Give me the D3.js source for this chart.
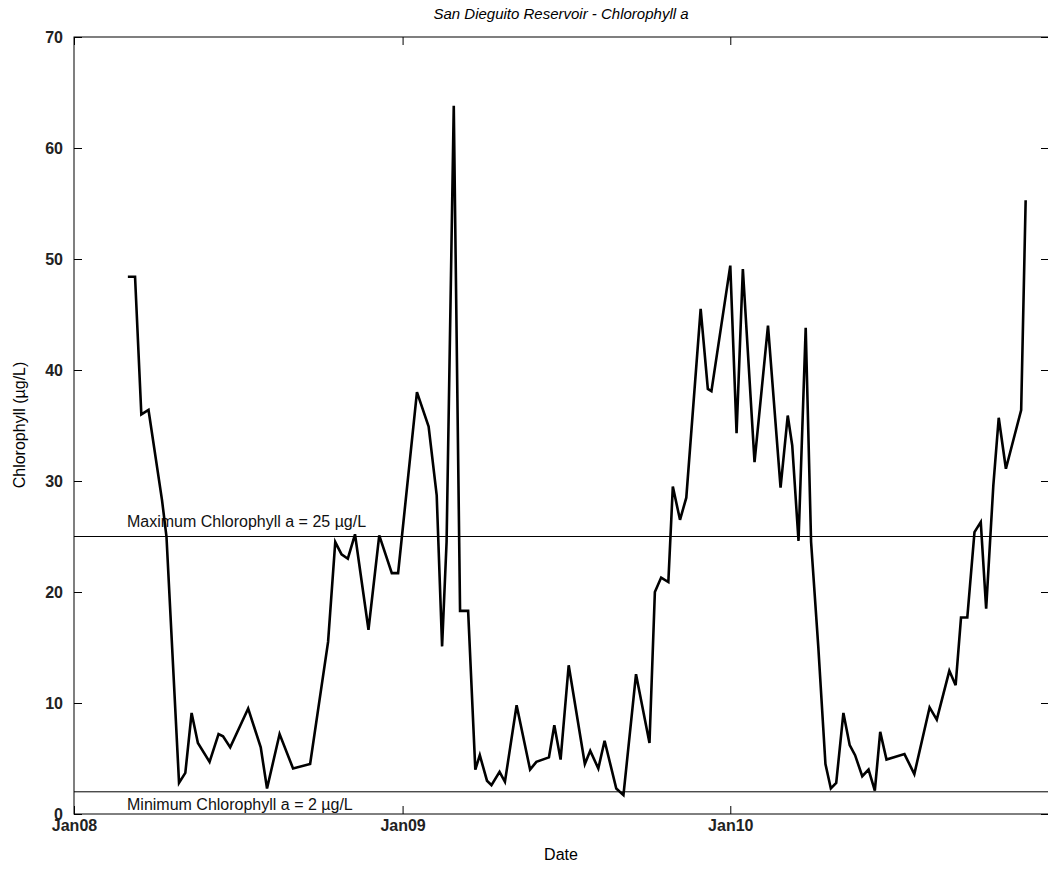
<!DOCTYPE html>
<html>
<head>
<meta charset="utf-8">
<style>
    body { margin: 0; background: white; }
    svg { font-family: Arial, 'Liberation Sans', sans-serif; }
</style>
</head>
<body>
<svg id="chart" width="1048" height="873"></svg>
<script src="https://d3js.org/d3.v7.min.js"></script>
<script>
    // sample dates and chlorophyll a (µg/L)
    let dates = ["2008-03-01","2008-03-09","2008-03-16","2008-03-24","2008-04-08","2008-04-13","2008-04-27","2008-05-04","2008-05-11","2008-05-18",
        "2008-05-31","2008-06-10","2008-06-15","2008-06-23","2008-07-13","2008-07-27","2008-08-03","2008-08-17","2008-09-01","2008-09-20",
        "2008-10-10","2008-10-18","2008-10-25","2008-11-01","2008-11-09","2008-11-24","2008-12-06","2008-12-20","2008-12-27","2009-01-17",
        "2009-01-30","2009-02-08","2009-02-14","2009-02-19","2009-02-27","2009-03-06","2009-03-15","2009-03-23","2009-03-28","2009-04-05",
        "2009-04-10","2009-04-19","2009-04-25","2009-05-08","2009-05-23","2009-05-30","2009-06-13","2009-06-19","2009-06-26","2009-07-05",
        "2009-07-23","2009-07-29","2009-08-07","2009-08-14","2009-08-27","2009-09-04","2009-09-18","2009-10-03","2009-10-09","2009-10-16",
        "2009-10-24","2009-10-29","2009-11-06","2009-11-13","2009-11-29","2009-12-07","2009-12-11","2010-01-01","2010-01-08","2010-01-15",
        "2010-01-28","2010-02-12","2010-02-26","2010-03-06","2010-03-11","2010-03-18","2010-03-26","2010-04-01","2010-04-09","2010-04-17",
        "2010-04-23","2010-04-29","2010-05-07","2010-05-14","2010-05-20","2010-05-28","2010-06-04","2010-06-11","2010-06-17","2010-06-24",
        "2010-07-14","2010-07-25","2010-08-11","2010-08-19","2010-09-02","2010-09-09","2010-09-15","2010-09-22","2010-09-30","2010-10-07",
        "2010-10-13","2010-10-21","2010-10-27","2010-11-04","2010-11-21","2010-11-26"]
    let chl = [48.4,48.4,36.0,36.4,28.3,25.0,2.8,3.7,9.1,6.4,
        4.7,7.2,7.0,6.0,9.5,6.0,2.3,7.2,4.1,4.5,
        15.5,24.5,23.4,23.0,25.2,16.6,25.1,21.7,21.7,38.0,
        34.9,28.7,15.1,24.5,63.8,18.3,18.3,4.0,5.3,3.0,
        2.6,3.8,2.9,9.8,4.0,4.7,5.1,8.0,4.9,13.4,
        4.5,5.7,4.1,6.6,2.3,1.7,12.6,6.4,20.0,21.3,
        20.9,29.5,26.5,28.5,45.5,38.3,38.1,49.4,34.3,49.1,
        31.7,44.0,29.4,35.9,33.2,24.6,43.8,24.5,15.1,4.5,
        2.3,2.8,9.1,6.2,5.3,3.4,4.0,2.1,7.4,4.9,
        5.4,3.6,9.6,8.5,12.9,11.6,17.7,17.7,25.4,26.3,
        18.5,29.6,35.7,31.1,36.4,55.3]
    let yTicks = [0,10,20,30,40,50,60,70]
    let xTicks = ["2008-01-01","2009-01-01","2010-01-01"]
    let xTickLabels = ["Jan08","Jan09","Jan10"]
    let limits = [{value: 25, label: "Maximum Chlorophyll a = 25 \u00b5g/L"},
                  {value: 2, label: "Minimum Chlorophyll a = 2 \u00b5g/L"}]

    let parse = d3.timeParse("%Y-%m-%d")
    let data = dates.map((d, i) => ({date: parse(d), v: chl[i]}))

    let svg = d3.select("#chart")
    let mLeft = 74, mRight = 1049, mTop = 37, mBottom = 814

    let x = d3.scaleTime()
        .domain([parse("2008-01-01"), parse("2010-12-22")])
        .range([mLeft, mRight])
    let y = d3.scaleLinear().domain([0, 70]).range([mBottom, mTop])

    let g = svg.append("g")

    // frame
    g.append("rect")
        .attr("x", mLeft).attr("y", mTop)
        .attr("width", mRight - mLeft).attr("height", mBottom - mTop)
        .attr("fill", "none").attr("stroke", "black").attr("stroke-width", 1)

    // inward ticks on all four sides
    let tickLen = 8
    g.append("g").attr("transform", `translate(0,${mBottom})`)
        .call(d3.axisBottom(x).tickValues(xTicks.map(parse)).tickSizeInner(-tickLen).tickSizeOuter(0)
            .tickFormat((d, i) => xTickLabels[i]))
        .call(a => a.select(".domain").remove())
        .call(a => a.selectAll("text").attr("y", 6).attr("dy", "0.71em").attr("font-size", 16).attr("font-weight", "bold").attr("fill", "#222"))
    g.append("g").attr("transform", `translate(0,${mTop})`)
        .call(d3.axisTop(x).tickValues(xTicks.map(parse)).tickSizeInner(-tickLen).tickSizeOuter(0).tickFormat(""))
        .call(a => a.select(".domain").remove())
    g.append("g").attr("transform", `translate(${mLeft},0)`)
        .call(d3.axisLeft(y).tickValues(yTicks).tickSizeInner(-tickLen).tickSizeOuter(0))
        .call(a => a.select(".domain").remove())
        .call(a => a.selectAll("text").attr("x", -11).attr("font-size", 16).attr("font-weight", "bold").attr("fill", "#222"))
    g.append("g").attr("transform", `translate(${mRight},0)`)
        .call(d3.axisRight(y).tickValues(yTicks).tickSizeInner(-tickLen).tickSizeOuter(0).tickFormat(""))
        .call(a => a.select(".domain").remove())

    // limit lines
    g.selectAll(".limit")
        .data(limits)
        .join("line")
        .attr("x1", mLeft).attr("x2", mRight)
        .attr("y1", d => y(d.value)).attr("y2", d => y(d.value))
        .attr("stroke", "black").attr("stroke-width", 1)
    g.selectAll(".limitlabel")
        .data(limits)
        .join("text")
        .attr("x", 127)
        .attr("y", d => d.value > 10 ? y(d.value) - 10 : y(d.value) + 18)
        .attr("font-size", 16)
        .attr("fill", "#111")
        .text(d => d.label)

    // data line
    g.append("path")
        .datum(data)
        .attr("d", d3.line().x(d => x(d.date)).y(d => y(d.v)))
        .attr("fill", "none").attr("stroke", "black").attr("stroke-width", 2.6)

    // titles
    svg.append("text").attr("x", 561).attr("y", 19).attr("text-anchor", "middle")
        .attr("font-size", 15).attr("font-style", "italic").text("San Dieguito Reservoir - Chlorophyll a")
    svg.append("text").attr("x", 561).attr("y", 860).attr("text-anchor", "middle")
        .attr("font-size", 16).text("Date")
    svg.append("text").attr("transform", "translate(25,425) rotate(-90)").attr("text-anchor", "middle")
        .attr("font-size", 16).text("Chlorophyll (\u00b5g/L)")
</script>
</body>
</html>
